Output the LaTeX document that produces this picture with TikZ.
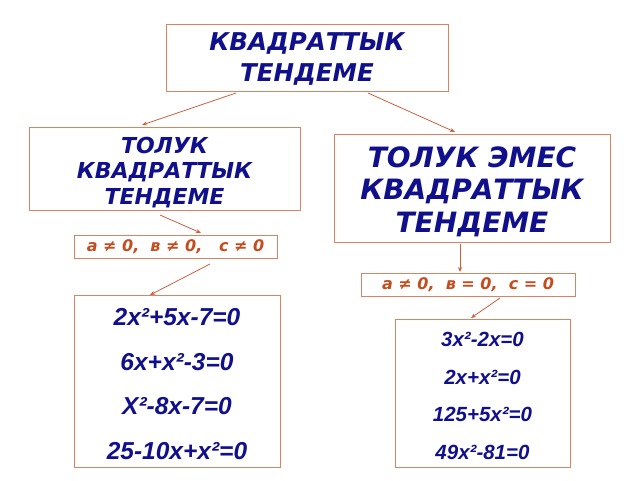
\documentclass[tikz,border=0pt]{standalone}
\usepackage{fontspec}
\setmainfont{DejaVu Sans}
\newfontfamily\eqfont{Liberation Sans}
\usetikzlibrary{arrows.meta}
\definecolor{navy}{RGB}{16,16,140}
\definecolor{brd}{RGB}{214,132,100}
\definecolor{cond}{RGB}{196,76,30}
\definecolor{arr}{RGB}{204,96,60}
\tikzset{
  box/.style={draw=brd, line width=0.9pt, fill=white, inner sep=0pt},
  title/.style={text=navy, font=\bfseries\itshape, align=center},
  condt/.style={text=cond, font=\bfseries\itshape\fontsize{16}{18}\selectfont},
  eqt/.style={text=navy, font=\eqfont\bfseries\itshape, align=center},
  link/.style={draw=arr, line width=0.8pt, -{Stealth[length=5pt,width=4pt]}}
}
\begin{document}
\begin{tikzpicture}[x=1pt,y=-1pt]
\useasboundingbox (0,0) rectangle (640,480);
% boxes
\draw[box] (166,24) rectangle (448,91);
\node[title, font=\bfseries\itshape\fontsize{24.5}{31}\selectfont] (top) at (307,59) {КВАДРАТТЫК\\ТЕНДЕМЕ};
\draw[box] (29,127) rectangle (300,210);
\node[title, font=\bfseries\itshape\fontsize{22}{25.5}\selectfont] (left) at (164.5,172.5) {ТОЛУК\\КВАДРАТТЫК\\ТЕНДЕМЕ};
\draw[box] (334,134) rectangle (610,242);
\node[title, font=\bfseries\itshape\fontsize{28}{32.5}\selectfont] (right) at (472,191.5) {ТОЛУК ЭМЕС\\КВАДРАТТЫК\\ТЕНДЕМЕ};
\draw[box] (74,235) rectangle (277,258);
\node[condt] (lc) at (175.5,247) {а ≠ 0,\ \ в ≠ 0,\ \ \ с ≠ 0};
\draw[box] (361,273) rectangle (575,296);
\node[condt] (rc) at (468,285) {а ≠ 0,\ \ в = 0,\ \ с = 0};
\draw[box] (74,295) rectangle (280,467);
\node[eqt, font=\eqfont\bfseries\itshape\fontsize{24.5}{44.5}\selectfont] (le) at (177,384) {2x²+5x-7=0\\6x+x²-3=0\\X²-8x-7=0\\25-10x+x²=0};
\draw[box] (395,319) rectangle (570,467);
\node[eqt, font=\eqfont\bfseries\itshape\fontsize{20.5}{37.5}\selectfont] (re) at (482.5,396) {3x²-2x=0\\2x+x²=0\\125+5x²=0\\49x²-81=0};
% connectors
\coordinate (a1) at (236,93); \coordinate (a1e) at (142,125);
\coordinate (a2) at (368,93); \coordinate (a2e) at (455,132);
\coordinate (a3) at (160,215); \coordinate (a3e) at (201,233);
\coordinate (a4) at (210,264); \coordinate (a4e) at (150,295);
\coordinate (a5) at (460,244); \coordinate (a5e) at (460,272);
\coordinate (a6) at (500,298); \coordinate (a6e) at (471,318);
\draw[link] (a1) -- (a1e);
\draw[link] (a2) -- (a2e);
\draw[link] (a3) -- (a3e);
\draw[link] (a4) -- (a4e);
\draw[link] (a5) -- (a5e);
\draw[link] (a6) -- (a6e);
\end{tikzpicture}
\end{document}
